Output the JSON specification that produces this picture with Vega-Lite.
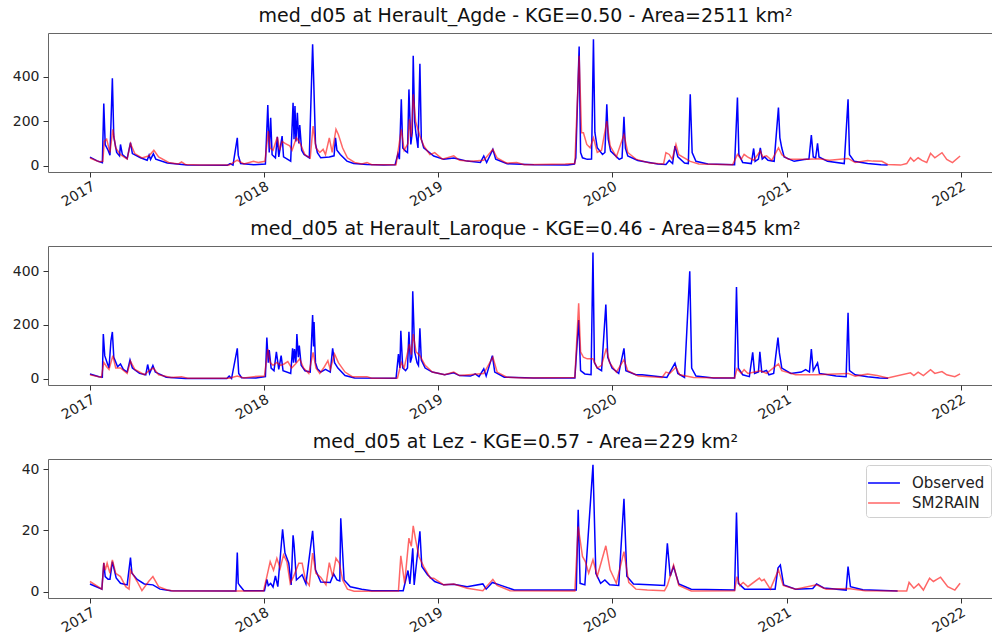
{
  "$schema": "https://vega.github.io/schema/vega-lite/v6.json",
  "padding": {"left": 7, "top": 6, "right": 0, "bottom": 0},
  "spacing": 9,
  "config": {
    "font": "DejaVu Sans",
    "view": {"stroke": "#666666", "strokeWidth": 1},
    "axis": {
      "domain": false,
      "grid": false,
      "ticks": true,
      "tickSize": 5,
      "tickColor": "#333333",
      "labelFontSize": 14,
      "labelColor": "#222222",
      "labelFont": "DejaVu Sans",
      "labelPadding": 4
    },
    "title": {"fontSize": 19, "fontWeight": "normal", "font": "DejaVu Sans", "color": "#111111", "offset": 7, "dx": 5}
  },
  "datasets": {
    "agdeObs": [
      {"t":"2017-01-01","q":39},{"t":"2017-01-16","q":22},{"t":"2017-01-27","q":14},{"t":"2017-01-30","q":280},
      {"t":"2017-02-02","q":95},{"t":"2017-02-08","q":70},{"t":"2017-02-12","q":48},{"t":"2017-02-17","q":394},
      {"t":"2017-02-20","q":130},{"t":"2017-02-26","q":60},{"t":"2017-03-04","q":45},{"t":"2017-03-06","q":96},
      {"t":"2017-03-10","q":50},{"t":"2017-03-20","q":32},{"t":"2017-03-27","q":104},{"t":"2017-03-31","q":55},
      {"t":"2017-04-17","q":36},{"t":"2017-05-01","q":25},{"t":"2017-05-05","q":48},{"t":"2017-05-08","q":28},
      {"t":"2017-05-14","q":54},{"t":"2017-05-19","q":30},{"t":"2017-06-12","q":13},{"t":"2017-07-24","q":3},
      {"t":"2017-10-16","q":2},{"t":"2017-10-22","q":10},{"t":"2017-10-28","q":3},{"t":"2017-11-06","q":126},
      {"t":"2017-11-08","q":48},{"t":"2017-11-13","q":10},{"t":"2017-12-11","q":5},{"t":"2018-01-04","q":8},
      {"t":"2018-01-09","q":274},{"t":"2018-01-12","q":60},{"t":"2018-01-15","q":216},{"t":"2018-01-18","q":50},
      {"t":"2018-01-25","q":36},{"t":"2018-01-29","q":130},{"t":"2018-02-01","q":40},{"t":"2018-02-08","q":134},
      {"t":"2018-02-11","q":40},{"t":"2018-02-26","q":21},{"t":"2018-03-03","q":284},{"t":"2018-03-05","q":120},
      {"t":"2018-03-07","q":269},{"t":"2018-03-09","q":110},{"t":"2018-03-12","q":239},{"t":"2018-03-15","q":100},
      {"t":"2018-03-17","q":183},{"t":"2018-03-21","q":70},{"t":"2018-03-26","q":51},{"t":"2018-04-06","q":36},
      {"t":"2018-04-13","q":547},{"t":"2018-04-15","q":405},{"t":"2018-04-19","q":100},{"t":"2018-04-23","q":59},
      {"t":"2018-04-30","q":36},{"t":"2018-05-18","q":40},{"t":"2018-05-28","q":45},{"t":"2018-05-31","q":126},
      {"t":"2018-06-03","q":70},{"t":"2018-06-10","q":51},{"t":"2018-06-24","q":21},{"t":"2018-07-08","q":10},
      {"t":"2018-08-05","q":6},{"t":"2018-09-09","q":4},{"t":"2018-10-03","q":5},{"t":"2018-10-09","q":54},
      {"t":"2018-10-12","q":30},{"t":"2018-10-16","q":299},{"t":"2018-10-19","q":80},{"t":"2018-10-25","q":66},
      {"t":"2018-10-29","q":60},{"t":"2018-11-01","q":344},{"t":"2018-11-05","q":96},{"t":"2018-11-08","q":150},
      {"t":"2018-11-10","q":495},{"t":"2018-11-13","q":200},{"t":"2018-11-16","q":141},{"t":"2018-11-20","q":80},
      {"t":"2018-11-24","q":460},{"t":"2018-11-27","q":120},{"t":"2018-12-02","q":81},{"t":"2018-12-23","q":44},
      {"t":"2019-01-13","q":29},{"t":"2019-02-03","q":35},{"t":"2019-03-03","q":21},{"t":"2019-03-31","q":15},
      {"t":"2019-04-07","q":44},{"t":"2019-04-13","q":15},{"t":"2019-04-26","q":74},{"t":"2019-05-02","q":30},
      {"t":"2019-05-26","q":9},{"t":"2019-07-21","q":5},{"t":"2019-09-30","q":4},{"t":"2019-10-14","q":8},
      {"t":"2019-10-17","q":36},{"t":"2019-10-24","q":537},{"t":"2019-10-27","q":60},{"t":"2019-10-31","q":36},
      {"t":"2019-11-10","q":29},{"t":"2019-11-19","q":30},{"t":"2019-11-23","q":570},{"t":"2019-11-26","q":150},
      {"t":"2019-12-01","q":81},{"t":"2019-12-12","q":51},{"t":"2019-12-17","q":60},{"t":"2019-12-21","q":277},
      {"t":"2019-12-24","q":120},{"t":"2019-12-29","q":66},{"t":"2020-01-16","q":29},{"t":"2020-01-22","q":35},
      {"t":"2020-01-26","q":221},{"t":"2020-01-29","q":80},{"t":"2020-02-03","q":44},{"t":"2020-02-24","q":24},
      {"t":"2020-04-06","q":8},{"t":"2020-04-23","q":6},{"t":"2020-04-30","q":24},{"t":"2020-05-07","q":10},
      {"t":"2020-05-12","q":89},{"t":"2020-05-18","q":40},{"t":"2020-06-01","q":12},{"t":"2020-06-09","q":10},
      {"t":"2020-06-13","q":322},{"t":"2020-06-17","q":60},{"t":"2020-06-25","q":20},{"t":"2020-07-20","q":8},
      {"t":"2020-09-14","q":5},{"t":"2020-09-20","q":307},{"t":"2020-09-23","q":50},{"t":"2020-10-01","q":15},
      {"t":"2020-10-19","q":10},{"t":"2020-10-24","q":78},{"t":"2020-10-27","q":20},{"t":"2020-11-03","q":30},
      {"t":"2020-11-07","q":81},{"t":"2020-11-11","q":30},{"t":"2020-11-16","q":40},{"t":"2020-11-23","q":25},
      {"t":"2020-12-06","q":20},{"t":"2020-12-15","q":262},{"t":"2020-12-18","q":126},{"t":"2020-12-22","q":80},
      {"t":"2020-12-27","q":40},{"t":"2021-01-17","q":20},{"t":"2021-02-07","q":28},{"t":"2021-02-17","q":30},
      {"t":"2021-02-22","q":138},{"t":"2021-02-26","q":40},{"t":"2021-03-03","q":35},{"t":"2021-03-07","q":101},
      {"t":"2021-03-10","q":40},{"t":"2021-03-28","q":20},{"t":"2021-05-02","q":10},{"t":"2021-05-10","q":299},
      {"t":"2021-05-13","q":50},{"t":"2021-05-23","q":20},{"t":"2021-06-20","q":10},{"t":"2021-07-18","q":5},
      {"t":"2021-08-01","q":4}
    ],
    "agdeSim": [
      {"t":"2017-01-01","q":35},{"t":"2017-01-20","q":18},{"t":"2017-01-28","q":20},{"t":"2017-01-31","q":110},
      {"t":"2017-02-05","q":120},{"t":"2017-02-12","q":60},{"t":"2017-02-18","q":164},{"t":"2017-02-24","q":80},
      {"t":"2017-03-06","q":50},{"t":"2017-03-20","q":30},{"t":"2017-03-27","q":100},{"t":"2017-04-05","q":55},
      {"t":"2017-04-20","q":35},{"t":"2017-05-05","q":45},{"t":"2017-05-15","q":70},{"t":"2017-05-25","q":40},
      {"t":"2017-06-15","q":15},{"t":"2017-07-05","q":8},{"t":"2017-07-12","q":18},{"t":"2017-07-20","q":6},
      {"t":"2017-08-20","q":3},{"t":"2017-10-20","q":3},{"t":"2017-11-06","q":25},{"t":"2017-11-20","q":8},
      {"t":"2017-12-10","q":20},{"t":"2017-12-20","q":15},{"t":"2018-01-03","q":20},{"t":"2018-01-10","q":156},
      {"t":"2018-01-14","q":80},{"t":"2018-01-20","q":70},{"t":"2018-01-29","q":130},{"t":"2018-02-03","q":70},
      {"t":"2018-02-08","q":110},{"t":"2018-02-15","q":100},{"t":"2018-02-24","q":90},{"t":"2018-03-01","q":70},
      {"t":"2018-03-10","q":126},{"t":"2018-03-18","q":100},{"t":"2018-03-28","q":50},{"t":"2018-04-08","q":35},
      {"t":"2018-04-14","q":179},{"t":"2018-04-20","q":80},{"t":"2018-04-28","q":60},{"t":"2018-05-05","q":74},
      {"t":"2018-05-10","q":50},{"t":"2018-05-18","q":126},{"t":"2018-05-24","q":60},{"t":"2018-06-01","q":164},
      {"t":"2018-06-06","q":141},{"t":"2018-06-15","q":80},{"t":"2018-06-25","q":36},{"t":"2018-07-10","q":15},
      {"t":"2018-07-25","q":8},{"t":"2018-08-05","q":15},{"t":"2018-08-15","q":5},{"t":"2018-10-05","q":5},
      {"t":"2018-10-16","q":164},{"t":"2018-10-22","q":70},{"t":"2018-10-30","q":100},{"t":"2018-11-02","q":209},
      {"t":"2018-11-06","q":130},{"t":"2018-11-10","q":322},{"t":"2018-11-15","q":200},{"t":"2018-11-24","q":134},
      {"t":"2018-12-02","q":90},{"t":"2018-12-15","q":50},{"t":"2018-12-25","q":59},{"t":"2019-01-10","q":30},
      {"t":"2019-02-03","q":45},{"t":"2019-02-15","q":25},{"t":"2019-03-10","q":20},{"t":"2019-04-07","q":25},
      {"t":"2019-04-26","q":74},{"t":"2019-05-05","q":35},{"t":"2019-05-25","q":12},{"t":"2019-06-15","q":15},
      {"t":"2019-07-01","q":5},{"t":"2019-09-25","q":8},{"t":"2019-10-15","q":10},{"t":"2019-10-24","q":495},
      {"t":"2019-10-29","q":149},{"t":"2019-11-02","q":149},{"t":"2019-11-09","q":96},{"t":"2019-11-16","q":81},
      {"t":"2019-11-23","q":126},{"t":"2019-12-01","q":60},{"t":"2019-12-10","q":70},{"t":"2019-12-21","q":201},
      {"t":"2019-12-28","q":90},{"t":"2020-01-10","q":40},{"t":"2020-01-26","q":141},{"t":"2020-02-03","q":60},
      {"t":"2020-02-20","q":30},{"t":"2020-03-20","q":12},{"t":"2020-04-18","q":8},{"t":"2020-04-23","q":59},{"t":"2020-04-30","q":51},
      {"t":"2020-05-06","q":30},{"t":"2020-05-14","q":96},{"t":"2020-05-20","q":50},{"t":"2020-06-13","q":20},
      {"t":"2020-07-01","q":8},{"t":"2020-09-10","q":5},{"t":"2020-09-20","q":51},{"t":"2020-09-28","q":30},
      {"t":"2020-10-04","q":51},{"t":"2020-10-11","q":40},{"t":"2020-10-24","q":25},{"t":"2020-11-07","q":66},
      {"t":"2020-11-12","q":40},{"t":"2020-11-20","q":45},{"t":"2020-12-01","q":25},{"t":"2020-12-15","q":81},
      {"t":"2020-12-22","q":50},{"t":"2021-01-05","q":29},{"t":"2021-02-15","q":29},{"t":"2021-03-10","q":32},
      {"t":"2021-04-01","q":25},{"t":"2021-05-10","q":33},{"t":"2021-05-25","q":15},{"t":"2021-06-20","q":24},
      {"t":"2021-07-01","q":21},{"t":"2021-07-20","q":20},{"t":"2021-08-01","q":6},{"t":"2021-08-28","q":3},
      {"t":"2021-09-10","q":10},{"t":"2021-09-18","q":36},{"t":"2021-09-25","q":20},{"t":"2021-10-04","q":36},
      {"t":"2021-10-12","q":24},{"t":"2021-10-22","q":15},{"t":"2021-10-30","q":56},{"t":"2021-11-08","q":36},
      {"t":"2021-11-23","q":59},{"t":"2021-12-03","q":29},{"t":"2021-12-15","q":14},{"t":"2021-12-31","q":44}
    ],
    "laroqueObs": [
      {"t":"2017-01-01","q":18},{"t":"2017-01-20","q":8},{"t":"2017-01-27","q":6},{"t":"2017-01-29","q":166},
      {"t":"2017-02-01","q":86},{"t":"2017-02-06","q":60},{"t":"2017-02-10","q":40},{"t":"2017-02-14","q":141},
      {"t":"2017-02-17","q":174},{"t":"2017-02-20","q":80},{"t":"2017-02-28","q":45},{"t":"2017-03-06","q":55},
      {"t":"2017-03-12","q":35},{"t":"2017-03-20","q":25},{"t":"2017-03-26","q":70},{"t":"2017-03-31","q":40},
      {"t":"2017-04-15","q":20},{"t":"2017-04-28","q":15},{"t":"2017-05-02","q":53},{"t":"2017-05-06","q":20},
      {"t":"2017-05-13","q":49},{"t":"2017-05-18","q":25},{"t":"2017-06-10","q":6},{"t":"2017-07-20","q":1},
      {"t":"2017-10-15","q":1},{"t":"2017-10-20","q":10},{"t":"2017-10-25","q":1},{"t":"2017-11-06","q":113},
      {"t":"2017-11-09","q":20},{"t":"2017-11-15","q":4},{"t":"2017-12-15","q":3},{"t":"2018-01-04","q":8},
      {"t":"2018-01-07","q":153},{"t":"2018-01-10","q":60},{"t":"2018-01-12","q":107},{"t":"2018-01-16","q":40},
      {"t":"2018-01-22","q":30},{"t":"2018-01-27","q":100},{"t":"2018-02-01","q":35},{"t":"2018-02-06","q":86},
      {"t":"2018-02-10","q":30},{"t":"2018-02-26","q":20},{"t":"2018-03-02","q":113},{"t":"2018-03-04","q":60},
      {"t":"2018-03-06","q":110},{"t":"2018-03-09","q":60},{"t":"2018-03-11","q":166},{"t":"2018-03-14","q":80},
      {"t":"2018-03-16","q":123},{"t":"2018-03-20","q":50},{"t":"2018-03-28","q":30},{"t":"2018-04-08","q":25},
      {"t":"2018-04-13","q":237},{"t":"2018-04-15","q":120},{"t":"2018-04-16","q":211},{"t":"2018-04-19","q":60},
      {"t":"2018-04-23","q":37},{"t":"2018-04-30","q":25},{"t":"2018-05-10","q":35},{"t":"2018-05-20","q":25},
      {"t":"2018-05-25","q":113},{"t":"2018-05-29","q":60},{"t":"2018-06-05","q":40},{"t":"2018-06-20","q":12},
      {"t":"2018-07-10","q":3},{"t":"2018-10-05","q":2},{"t":"2018-10-10","q":92},{"t":"2018-10-13","q":40},
      {"t":"2018-10-15","q":178},{"t":"2018-10-19","q":40},{"t":"2018-10-25","q":30},{"t":"2018-10-29","q":40},
      {"t":"2018-11-01","q":175},{"t":"2018-11-04","q":60},{"t":"2018-11-07","q":80},{"t":"2018-11-09","q":325},
      {"t":"2018-11-13","q":100},{"t":"2018-11-18","q":60},{"t":"2018-11-21","q":50},{"t":"2018-11-24","q":188},
      {"t":"2018-11-27","q":70},{"t":"2018-12-05","q":40},{"t":"2018-12-20","q":25},{"t":"2019-01-15","q":15},
      {"t":"2019-02-03","q":22},{"t":"2019-02-15","q":12},{"t":"2019-03-10","q":10},{"t":"2019-03-20","q":18},
      {"t":"2019-03-28","q":8},{"t":"2019-04-07","q":37},{"t":"2019-04-12","q":10},{"t":"2019-04-25","q":86},
      {"t":"2019-04-30","q":25},{"t":"2019-05-20","q":6},{"t":"2019-07-20","q":3},{"t":"2019-10-15","q":3},
      {"t":"2019-10-23","q":218},{"t":"2019-10-27","q":30},{"t":"2019-11-05","q":18},{"t":"2019-11-18","q":15},
      {"t":"2019-11-22","q":469},{"t":"2019-11-25","q":60},{"t":"2019-12-01","q":40},{"t":"2019-12-10","q":30},
      {"t":"2019-12-19","q":276},{"t":"2019-12-23","q":80},{"t":"2020-01-01","q":40},{"t":"2020-01-15","q":20},
      {"t":"2020-01-26","q":113},{"t":"2020-01-30","q":30},{"t":"2020-02-20","q":15},{"t":"2020-03-04","q":15},
      {"t":"2020-04-25","q":5},{"t":"2020-05-12","q":58},{"t":"2020-05-18","q":20},{"t":"2020-06-01","q":5},
      {"t":"2020-06-12","q":399},{"t":"2020-06-16","q":40},{"t":"2020-06-25","q":10},{"t":"2020-08-01","q":3},
      {"t":"2020-09-14","q":3},{"t":"2020-09-18","q":341},{"t":"2020-09-22","q":40},{"t":"2020-10-01","q":15},
      {"t":"2020-10-15","q":8},{"t":"2020-10-22","q":98},{"t":"2020-10-26","q":20},{"t":"2020-11-03","q":25},
      {"t":"2020-11-06","q":100},{"t":"2020-11-10","q":25},{"t":"2020-11-20","q":31},{"t":"2020-11-25","q":15},
      {"t":"2020-12-05","q":20},{"t":"2020-12-14","q":153},{"t":"2020-12-17","q":96},{"t":"2020-12-22","q":40},
      {"t":"2021-01-10","q":20},{"t":"2021-02-01","q":25},{"t":"2021-02-10","q":34},{"t":"2021-02-18","q":25},
      {"t":"2021-02-22","q":110},{"t":"2021-02-26","q":30},{"t":"2021-03-07","q":59},{"t":"2021-03-11","q":20},
      {"t":"2021-04-15","q":10},{"t":"2021-05-06","q":8},{"t":"2021-05-10","q":245},{"t":"2021-05-13","q":30},
      {"t":"2021-05-25","q":15},{"t":"2021-06-20","q":8},{"t":"2021-07-15","q":3},{"t":"2021-08-02","q":2}
    ],
    "laroqueSim": [
      {"t":"2017-01-01","q":15},{"t":"2017-01-25","q":5},{"t":"2017-01-30","q":61},{"t":"2017-02-05","q":45},
      {"t":"2017-02-10","q":35},{"t":"2017-02-18","q":86},{"t":"2017-02-24","q":40},{"t":"2017-03-06","q":40},
      {"t":"2017-03-20","q":20},{"t":"2017-03-27","q":65},{"t":"2017-04-05","q":35},{"t":"2017-04-25","q":15},
      {"t":"2017-05-05","q":30},{"t":"2017-05-14","q":40},{"t":"2017-05-25","q":15},{"t":"2017-06-20","q":5},
      {"t":"2017-07-12","q":8},{"t":"2017-07-25","q":2},{"t":"2017-10-20","q":2},{"t":"2017-11-06","q":10},
      {"t":"2017-11-20","q":3},{"t":"2017-12-10","q":8},{"t":"2018-01-02","q":10},{"t":"2018-01-09","q":110},
      {"t":"2018-01-14","q":60},{"t":"2018-01-20","q":50},{"t":"2018-01-28","q":61},{"t":"2018-02-05","q":50},
      {"t":"2018-02-12","q":55},{"t":"2018-02-20","q":64},{"t":"2018-02-28","q":40},{"t":"2018-03-08","q":55},
      {"t":"2018-03-17","q":74},{"t":"2018-03-25","q":40},{"t":"2018-04-05","q":20},{"t":"2018-04-14","q":98},
      {"t":"2018-04-20","q":40},{"t":"2018-04-28","q":20},{"t":"2018-05-06","q":40},{"t":"2018-05-15","q":67},
      {"t":"2018-05-20","q":35},{"t":"2018-05-29","q":92},{"t":"2018-06-06","q":60},{"t":"2018-06-20","q":25},
      {"t":"2018-07-05","q":8},{"t":"2018-08-05","q":8},{"t":"2018-08-15","q":2},{"t":"2018-10-08","q":3},
      {"t":"2018-10-16","q":61},{"t":"2018-10-22","q":40},{"t":"2018-11-02","q":129},{"t":"2018-11-06","q":90},
      {"t":"2018-11-10","q":166},{"t":"2018-11-16","q":100},{"t":"2018-11-24","q":86},{"t":"2018-12-05","q":50},
      {"t":"2018-12-20","q":25},{"t":"2019-01-15","q":15},{"t":"2019-02-03","q":25},{"t":"2019-02-15","q":12},
      {"t":"2019-04-07","q":20},{"t":"2019-04-26","q":80},{"t":"2019-05-05","q":25},{"t":"2019-05-25","q":6},
      {"t":"2019-07-01","q":3},{"t":"2019-10-15","q":5},{"t":"2019-10-23","q":280},{"t":"2019-10-27","q":100},
      {"t":"2019-11-02","q":80},{"t":"2019-11-10","q":74},{"t":"2019-11-22","q":74},{"t":"2019-12-01","q":40},
      {"t":"2019-12-10","q":50},{"t":"2019-12-20","q":113},{"t":"2019-12-27","q":60},{"t":"2020-01-10","q":25},
      {"t":"2020-01-26","q":71},{"t":"2020-02-03","q":30},{"t":"2020-02-25","q":10},{"t":"2020-04-15","q":5},{"t":"2020-04-23","q":25},
      {"t":"2020-05-01","q":20},{"t":"2020-05-14","q":43},{"t":"2020-05-22","q":15},{"t":"2020-06-20","q":5},
      {"t":"2020-09-14","q":3},{"t":"2020-09-19","q":37},{"t":"2020-09-28","q":20},{"t":"2020-10-04","q":34},
      {"t":"2020-10-12","q":20},{"t":"2020-11-07","q":30},{"t":"2020-11-20","q":20},{"t":"2020-12-15","q":55},
      {"t":"2020-12-22","q":30},{"t":"2021-01-20","q":15},{"t":"2021-03-05","q":15},{"t":"2021-05-10","q":20},
      {"t":"2021-05-25","q":10},{"t":"2021-06-20","q":18},{"t":"2021-07-10","q":12},{"t":"2021-08-01","q":3},
      {"t":"2021-09-18","q":22},{"t":"2021-09-25","q":12},{"t":"2021-10-04","q":25},{"t":"2021-10-15","q":12},
      {"t":"2021-10-30","q":34},{"t":"2021-11-08","q":20},{"t":"2021-11-23","q":27},{"t":"2021-12-03","q":15},
      {"t":"2021-12-20","q":8},{"t":"2021-12-31","q":18}
    ],
    "lezObs": [
      {"t":"2017-01-01","q":2.5},{"t":"2017-01-26","q":0.8},{"t":"2017-01-30","q":9.3},{"t":"2017-02-02","q":4.9},
      {"t":"2017-02-08","q":4.0},{"t":"2017-02-12","q":4.0},{"t":"2017-02-17","q":9.8},{"t":"2017-02-25","q":4.5},
      {"t":"2017-03-06","q":2.7},{"t":"2017-03-20","q":2.2},{"t":"2017-03-27","q":11.1},{"t":"2017-03-30","q":6.0},
      {"t":"2017-04-10","q":4.0},{"t":"2017-04-25","q":2.5},{"t":"2017-05-13","q":2.2},{"t":"2017-05-28","q":0.8},
      {"t":"2017-06-20","q":0.3},{"t":"2017-11-03","q":0.2},{"t":"2017-11-06","q":12.8},{"t":"2017-11-08","q":2.7},
      {"t":"2017-11-12","q":1.8},{"t":"2017-11-20","q":0.3},{"t":"2018-01-02","q":0.3},{"t":"2018-01-07","q":4.0},
      {"t":"2018-01-10","q":2.0},{"t":"2018-01-15","q":2.7},{"t":"2018-01-20","q":1.5},{"t":"2018-01-25","q":5.1},
      {"t":"2018-01-30","q":1.6},{"t":"2018-02-09","q":20.4},{"t":"2018-02-14","q":12.6},{"t":"2018-02-22","q":9.3},
      {"t":"2018-02-27","q":2.2},{"t":"2018-03-03","q":18.4},{"t":"2018-03-05","q":15.5},{"t":"2018-03-10","q":3.8},
      {"t":"2018-03-22","q":5.5},{"t":"2018-03-30","q":2.5},{"t":"2018-04-13","q":19.9},{"t":"2018-04-19","q":7.1},
      {"t":"2018-04-30","q":3.1},{"t":"2018-05-20","q":3.0},{"t":"2018-05-27","q":5.8},{"t":"2018-06-03","q":3.8},
      {"t":"2018-06-09","q":3.5},{"t":"2018-06-11","q":24.0},{"t":"2018-06-18","q":3.8},{"t":"2018-07-01","q":1.6},
      {"t":"2018-07-25","q":0.8},{"t":"2018-08-15","q":0.3},{"t":"2018-10-20","q":0.3},{"t":"2018-10-30","q":6.9},
      {"t":"2018-11-03","q":2.5},{"t":"2018-11-09","q":14.2},{"t":"2018-11-12","q":2.2},{"t":"2018-11-24","q":19.7},
      {"t":"2018-11-28","q":8.2},{"t":"2018-12-10","q":5.5},{"t":"2018-12-25","q":3.3},{"t":"2019-01-13","q":2.2},
      {"t":"2019-02-03","q":2.4},{"t":"2019-03-03","q":1.6},{"t":"2019-04-05","q":2.5},{"t":"2019-04-12","q":0.8},
      {"t":"2019-04-25","q":3.0},{"t":"2019-05-10","q":2.2},{"t":"2019-06-10","q":0.5},{"t":"2019-10-18","q":0.5},
      {"t":"2019-10-22","q":26.8},{"t":"2019-10-26","q":2.7},{"t":"2019-11-05","q":2.2},{"t":"2019-11-22","q":41.5},
      {"t":"2019-11-28","q":6.0},{"t":"2019-12-08","q":2.7},{"t":"2019-12-17","q":3.8},{"t":"2019-12-27","q":2.2},
      {"t":"2020-01-15","q":2.0},{"t":"2020-01-26","q":30.4},{"t":"2020-02-01","q":5.0},{"t":"2020-02-15","q":2.5},
      {"t":"2020-03-20","q":2.2},{"t":"2020-04-20","q":2.0},{"t":"2020-04-26","q":15.8},{"t":"2020-05-02","q":5.0},
      {"t":"2020-05-09","q":8.2},{"t":"2020-05-20","q":2.5},{"t":"2020-06-15","q":0.8},{"t":"2020-09-14","q":0.5},
      {"t":"2020-09-18","q":25.9},{"t":"2020-09-22","q":2.7},{"t":"2020-10-05","q":0.8},{"t":"2020-12-08","q":0.8},
      {"t":"2020-12-14","q":7.7},{"t":"2020-12-19","q":8.7},{"t":"2020-12-26","q":2.2},{"t":"2021-01-20","q":0.8},
      {"t":"2021-02-25","q":1.0},{"t":"2021-03-05","q":2.5},{"t":"2021-03-20","q":1.2},{"t":"2021-05-06","q":0.5},
      {"t":"2021-05-10","q":8.2},{"t":"2021-05-15","q":1.6},{"t":"2021-06-10","q":0.6},{"t":"2021-08-22","q":0.2}
    ],
    "lezSim": [
      {"t":"2017-01-01","q":3.3},{"t":"2017-01-26","q":0.8},{"t":"2017-01-30","q":9.5},{"t":"2017-02-02","q":7.0},
      {"t":"2017-02-06","q":9.3},{"t":"2017-02-12","q":6.0},{"t":"2017-02-17","q":10.4},{"t":"2017-02-24","q":6.0},
      {"t":"2017-03-06","q":4.9},{"t":"2017-03-17","q":1.6},{"t":"2017-03-24","q":0.8},{"t":"2017-03-27","q":7.1},
      {"t":"2017-04-10","q":3.3},{"t":"2017-04-20","q":0.3},{"t":"2017-05-04","q":3.3},{"t":"2017-05-13","q":4.9},
      {"t":"2017-05-25","q":1.6},{"t":"2017-06-12","q":0.5},{"t":"2017-06-25","q":0.2},{"t":"2017-12-31","q":0.2},
      {"t":"2018-01-07","q":4.9},{"t":"2018-01-14","q":9.8},{"t":"2018-01-21","q":7.0},{"t":"2018-01-28","q":10.9},
      {"t":"2018-02-04","q":7.6},{"t":"2018-02-11","q":12.0},{"t":"2018-02-18","q":9.8},{"t":"2018-02-25","q":2.7},
      {"t":"2018-03-04","q":4.9},{"t":"2018-03-15","q":9.3},{"t":"2018-03-22","q":9.3},{"t":"2018-03-29","q":3.8},
      {"t":"2018-04-06","q":2.0},{"t":"2018-04-13","q":12.6},{"t":"2018-04-20","q":6.0},{"t":"2018-04-30","q":4.7},
      {"t":"2018-05-11","q":2.2},{"t":"2018-05-18","q":9.5},{"t":"2018-05-25","q":4.9},{"t":"2018-06-01","q":10.9},
      {"t":"2018-06-08","q":9.3},{"t":"2018-06-15","q":3.8},{"t":"2018-06-25","q":0.8},{"t":"2018-07-09","q":0.1},
      {"t":"2018-10-10","q":0.2},{"t":"2018-10-15","q":11.7},{"t":"2018-10-23","q":2.7},{"t":"2018-11-01","q":17.5},
      {"t":"2018-11-06","q":14.8},{"t":"2018-11-10","q":21.5},{"t":"2018-11-15","q":17.0},{"t":"2018-11-22","q":11.5},
      {"t":"2018-12-02","q":8.2},{"t":"2018-12-16","q":4.4},{"t":"2018-12-23","q":4.4},{"t":"2019-01-13","q":2.2},
      {"t":"2019-02-03","q":2.5},{"t":"2019-03-03","q":1.1},{"t":"2019-04-05","q":0.3},{"t":"2019-04-26","q":4.0},
      {"t":"2019-05-05","q":2.0},{"t":"2019-06-01","q":0.3},{"t":"2019-10-15","q":0.2},{"t":"2019-10-22","q":21.3},
      {"t":"2019-10-31","q":11.5},{"t":"2019-11-06","q":9.8},{"t":"2019-11-13","q":6.0},{"t":"2019-11-22","q":10.4},
      {"t":"2019-12-01","q":5.0},{"t":"2019-12-19","q":15.0},{"t":"2019-12-28","q":7.1},{"t":"2020-01-10","q":2.7},
      {"t":"2020-01-26","q":13.1},{"t":"2020-02-05","q":3.0},{"t":"2020-02-20","q":0.8},{"t":"2020-03-15","q":0.5},
      {"t":"2020-04-20","q":0.3},{"t":"2020-04-26","q":2.0},{"t":"2020-05-09","q":8.7},{"t":"2020-05-20","q":2.0},
      {"t":"2020-06-15","q":0.2},{"t":"2020-09-14","q":0.3},{"t":"2020-09-19","q":4.9},{"t":"2020-09-25","q":2.0},
      {"t":"2020-10-02","q":3.0},{"t":"2020-10-12","q":1.6},{"t":"2020-11-05","q":4.4},{"t":"2020-11-10","q":3.5},
      {"t":"2020-11-15","q":4.0},{"t":"2020-11-28","q":0.8},{"t":"2020-12-15","q":7.1},{"t":"2020-12-25","q":2.0},
      {"t":"2021-01-20","q":0.8},{"t":"2021-03-05","q":2.2},{"t":"2021-03-25","q":0.8},{"t":"2021-05-10","q":1.0},
      {"t":"2021-06-15","q":0.3},{"t":"2021-09-10","q":0.2},{"t":"2021-09-15","q":3.0},{"t":"2021-09-25","q":1.1},
      {"t":"2021-10-05","q":2.5},{"t":"2021-10-15","q":0.5},{"t":"2021-10-28","q":4.4},{"t":"2021-11-05","q":3.3},
      {"t":"2021-11-20","q":4.7},{"t":"2021-12-05","q":1.6},{"t":"2021-12-20","q":0.5},{"t":"2021-12-31","q":2.7}
    ]
  },
  "resolve": {"scale": {"color": "independent"}},
  "vconcat": [
    {
      "title": {"text": "med_d05 at Herault_Agde - KGE=0.50 - Area=2511 km²"},
      "width": 945,
      "height": 139,
      "encoding": {
        "x": {"field": "t", "type": "temporal", "title": null,
          "scale": {"type": "utc", "domain": [{"year": 2016, "month": 10, "date": 5, "utc": true}, {"year": 2022, "month": 3, "date": 10, "utc": true}]},
          "axis": {"format": "%Y", "formatType": "utc", "labelAngle": -30, "labelAlign": "right", "labelBaseline": "top", "labelPadding": 2,
            "values": [{"year": 2017, "month": 1, "date": 1, "utc": true}, {"year": 2018, "month": 1, "date": 1, "utc": true}, {"year": 2019, "month": 1, "date": 1, "utc": true}, {"year": 2020, "month": 1, "date": 1, "utc": true}, {"year": 2021, "month": 1, "date": 1, "utc": true}, {"year": 2022, "month": 1, "date": 1, "utc": true}]}},
        "y": {"field": "q", "type": "quantitative", "title": null,
          "scale": {"domain": [-28, 598], "nice": false, "zero": false},
          "axis": {"values": [0, 200, 400], "minExtent": 40, "maxExtent": 40}}
      },
      "layer": [
        {"data": {"name": "agdeObs"}, "mark": {"type": "line", "color": "#0000ff", "strokeWidth": 1.5}},
        {"data": {"name": "agdeSim"}, "mark": {"type": "line", "color": "#ff0000", "strokeWidth": 1.5, "opacity": 0.6}}
      ]
    },
    {
      "title": {"text": "med_d05 at Herault_Laroque - KGE=0.46 - Area=845 km²"},
      "width": 945,
      "height": 139,
      "encoding": {
        "x": {"field": "t", "type": "temporal", "title": null,
          "scale": {"type": "utc", "domain": [{"year": 2016, "month": 10, "date": 5, "utc": true}, {"year": 2022, "month": 3, "date": 10, "utc": true}]},
          "axis": {"format": "%Y", "formatType": "utc", "labelAngle": -30, "labelAlign": "right", "labelBaseline": "top", "labelPadding": 2,
            "values": [{"year": 2017, "month": 1, "date": 1, "utc": true}, {"year": 2018, "month": 1, "date": 1, "utc": true}, {"year": 2019, "month": 1, "date": 1, "utc": true}, {"year": 2020, "month": 1, "date": 1, "utc": true}, {"year": 2021, "month": 1, "date": 1, "utc": true}, {"year": 2022, "month": 1, "date": 1, "utc": true}]}},
        "y": {"field": "q", "type": "quantitative", "title": null,
          "scale": {"domain": [-23, 493], "nice": false, "zero": false},
          "axis": {"values": [0, 200, 400], "minExtent": 40, "maxExtent": 40}}
      },
      "layer": [
        {"data": {"name": "laroqueObs"}, "mark": {"type": "line", "color": "#0000ff", "strokeWidth": 1.5}},
        {"data": {"name": "laroqueSim"}, "mark": {"type": "line", "color": "#ff0000", "strokeWidth": 1.5, "opacity": 0.6}}
      ]
    },
    {
      "title": {"text": "med_d05 at Lez - KGE=0.57 - Area=229 km²"},
      "width": 945,
      "height": 139,
      "encoding": {
        "x": {"field": "t", "type": "temporal", "title": null,
          "scale": {"type": "utc", "domain": [{"year": 2016, "month": 10, "date": 5, "utc": true}, {"year": 2022, "month": 3, "date": 10, "utc": true}]},
          "axis": {"format": "%Y", "formatType": "utc", "labelAngle": -30, "labelAlign": "right", "labelBaseline": "top", "labelPadding": 2,
            "values": [{"year": 2017, "month": 1, "date": 1, "utc": true}, {"year": 2018, "month": 1, "date": 1, "utc": true}, {"year": 2019, "month": 1, "date": 1, "utc": true}, {"year": 2020, "month": 1, "date": 1, "utc": true}, {"year": 2021, "month": 1, "date": 1, "utc": true}, {"year": 2022, "month": 1, "date": 1, "utc": true}]}},
        "y": {"field": "q", "type": "quantitative", "title": null,
          "scale": {"domain": [-2.1, 43.4], "nice": false, "zero": false},
          "axis": {"values": [0, 20, 40], "minExtent": 40, "maxExtent": 40}},
        "color": {"datum": "Observed",
          "scale": {"domain": ["Observed", "SM2RAIN"], "range": ["#0000ff", "#ff0000"]},
          "legend": {"orient": "none", "legendX": 818, "legendY": 6, "title": null,
            "symbolType": "M-1.45,0H1.45", "symbolSize": 484, "symbolStrokeWidth": 1.5,
            "labelFontSize": 15, "labelColor": "#222222", "labelOffset": 16,
            "padding": 6, "rowPadding": 0,
            "strokeColor": "#d0d0d0", "fillColor": "#ffffff", "cornerRadius": 3,
            "encode": {"symbols": {"update": {"opacity": {"signal": "datum.value === 'SM2RAIN' ? 0.6 : 1"}}}}}}
      },
      "layer": [
        {"data": {"name": "lezObs"}, "mark": {"type": "line", "strokeWidth": 1.5}},
        {"data": {"name": "lezSim"}, "mark": {"type": "line", "strokeWidth": 1.5, "opacity": 0.6}, "encoding": {"color": {"datum": "SM2RAIN"}}}
      ]
    }
  ]
}
